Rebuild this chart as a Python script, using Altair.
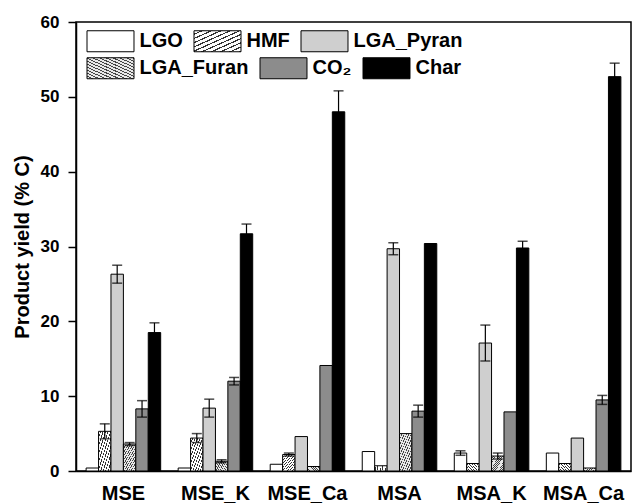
import altair as alt
import pandas as pd

categories = ["MSE", "MSE_K", "MSE_Ca", "MSA", "MSA_K", "MSA_Ca"]
series = ["LGO", "HMF", "LGA_Pyran", "LGA_Furan", "CO₂", "Char"]

lgo = [0.4, 0.4, 0.9, 2.6, 2.4, 2.4]
hmf = [5.3, 4.4, 2.2, 0.7, 1.0, 1.0]
lga_pyran = [26.3, 8.4, 4.6, 29.7, 17.1, 4.4]
lga_furan = [3.6, 1.3, 0.6, 5.0, 2.0, 0.4]
co2 = [8.3, 12.0, 14.1, 8.0, 7.9, 9.5]
char = [18.5, 31.7, 48.0, 30.4, 29.8, 52.7]

err_lgo = [0.0, 0.0, 0.0, 0.0, 0.3, 0.0]
err_hmf = [1.0, 0.6, 0.2, 0.0, 0.0, 0.0]
err_lga_pyran = [1.2, 1.2, 0.0, 0.8, 2.4, 0.0]
err_lga_furan = [0.2, 0.2, 0.0, 0.0, 0.4, 0.0]
err_co2 = [1.1, 0.5, 0.0, 0.8, 0.0, 0.6]
err_char = [1.3, 1.3, 2.8, 0.0, 0.9, 1.8]

vals = [lgo, hmf, lga_pyran, lga_furan, co2, char]
errs = [err_lgo, err_hmf, err_lga_pyran, err_lga_furan, err_co2, err_char]

rows = []
for s, v, e in zip(series, vals, errs):
    for c, vv, ee in zip(categories, v, e):
        rows.append({"cat": c, "series": s, "value": vv, "err": ee,
                     "lo": vv - ee, "hi": vv + ee})
df = pd.DataFrame(rows)


def stripes(n, bg, fg, frac, x1, y1, x2, y2):
    stops = []
    for i in range(n):
        a = i / n
        b = (i + 1 - frac) / n
        c = (i + 1) / n
        stops.append("{offset:%.4f,color:'%s'}" % (a, bg))
        stops.append("{offset:%.4f,color:'%s'}" % (b, bg))
        stops.append("{offset:%.4f,color:'%s'}" % (b, fg))
        stops.append("{offset:%.4f,color:'%s'}" % (c, fg))
    return ("{gradient:'linear',x1:%g,y1:%g,x2:%g,y2:%g,stops:[%s]}"
            % (x1, y1, x2, y2, ",".join(stops)))


hmf_fill = stripes(10, "#ffffff", "#333333", 0.3, 0, 0, 1, 1)
furan_fill = stripes(14, "#e8e8e8", "#444444", 0.35, 0, 1, 1, 0)

fills = ["#ffffff", {"expr": hmf_fill}, "#cfcfcf", {"expr": furan_fill},
         "#8c8c8c", "#000000"]

FONT = "Liberation Sans"

row1, row2 = series[:3], series[3:]
fill1, fill2 = fills[:3], fills[3:]

x_enc = alt.X(
    "cat:N", sort=categories, title=None,
    scale=alt.Scale(paddingInner=0.19, paddingOuter=0.11),
    axis=alt.Axis(labelAngle=0, ticks=False, labelFont=FONT, labelFontSize=20,
                  labelFontWeight="bold", labelColor="black", labelPadding=12,
                  domainColor="black", domainWidth=1.5),
)
xoff = alt.XOffset("series:N", sort=series,
                   scale=alt.Scale(domain=series, paddingInner=0, paddingOuter=0))

y_scale = alt.Scale(domain=[0, 60], nice=False)
y_enc = alt.Y("value:Q", scale=y_scale, title="Product yield (% C)",
              axis=alt.Axis(values=list(range(0, 61, 5)),
                            labelExpr="datum.value % 10 === 0 ? datum.label : ''",
                            grid=False, tickSize=8, tickColor="black", tickWidth=1.5,
                            labelPadding=9, labelFont=FONT, labelFontSize=17,
                            labelFontWeight="bold", labelColor="black",
                            domainColor="black", domainWidth=1.5,
                            titleFont=FONT, titleFontSize=20, titleFontWeight="bold",
                            titleColor="black", titlePadding=8))


def legend(y):
    return alt.Legend(
        title=None, orient="none", legendX=11, legendY=y,
        direction="horizontal",
        symbolType="M-2.238,-1L2.238,-1L2.238,1L-2.238,1Z",
        symbolSize=441, symbolOffset=12.5, symbolStrokeColor="black",
        symbolStrokeWidth=1, labelFont=FONT, labelFontSize=20,
        labelFontWeight="bold", labelColor="black",
        labelOffset=18, columnPadding=9, padding=0)


base = alt.Chart(df)

bars1 = base.transform_filter(
    alt.FieldOneOfPredicate(field="series", oneOf=row1)
).mark_bar(stroke="black", strokeWidth=1).encode(
    x=x_enc, xOffset=xoff, y=y_enc,
    color=alt.Color("series:N", sort=row1,
                    scale=alt.Scale(domain=row1, range=fill1),
                    legend=legend(8)),
)
bars2 = base.transform_filter(
    alt.FieldOneOfPredicate(field="series", oneOf=row2)
).mark_bar(stroke="black", strokeWidth=1).encode(
    x=x_enc, xOffset=xoff, y=y_enc,
    color=alt.Color("series:N", sort=row2,
                    scale=alt.Scale(domain=row2, range=fill2),
                    legend=legend(35)),
)

eb = base.transform_filter("datum.err > 0")

rules = eb.mark_rule(color="black", strokeWidth=1.2).encode(
    x=alt.X("cat:N", sort=categories),
    xOffset=xoff,
    y=alt.Y("lo:Q", scale=y_scale),
    y2="hi:Q",
)
caps_hi = eb.mark_tick(color="black", size=10, thickness=1.5).encode(
    x=alt.X("cat:N", sort=categories),
    xOffset=xoff,
    y=alt.Y("hi:Q", scale=y_scale),
)
caps_lo = eb.mark_tick(color="black", size=10, thickness=1.5).encode(
    x=alt.X("cat:N", sort=categories),
    xOffset=xoff,
    y=alt.Y("lo:Q", scale=y_scale),
)

chart = alt.layer(bars1, bars2, rules, caps_hi, caps_lo).resolve_scale(
    color="independent"
).properties(
    width=555, height=449,
    padding={"left": 76, "top": 22, "right": 4, "bottom": 33},
    autosize="none",
    background="white",
).configure_view(stroke="black", strokeWidth=1.5)

chart.save("out.html", embed_options={"renderer": "svg", "actions": False})
